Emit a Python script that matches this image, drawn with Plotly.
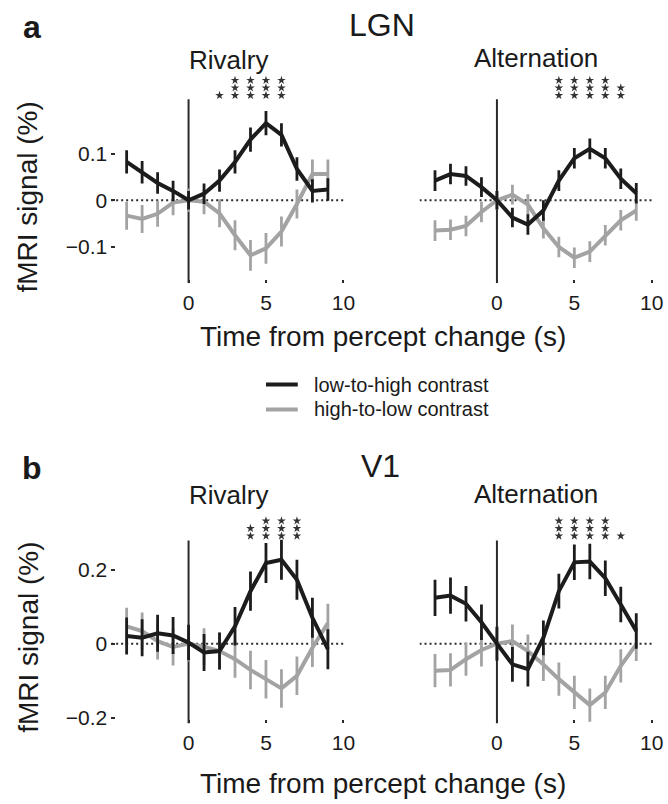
import plotly.graph_objects as go

W, H = 668, 804

# ---------------- data ----------------
time = [-4, -3, -2, -1, 0, 1, 2, 3, 4, 5, 6, 7, 8, 9]

# LGN, rivalry
lgn_riv_up = [0.082, 0.060, 0.037, 0.020, 0.000, 0.014, 0.042, 0.082, 0.130, 0.165, 0.140, 0.067, 0.020, 0.023]
lgn_riv_up_err = [0.025, 0.024, 0.023, 0.022, 0.020, 0.022, 0.024, 0.025, 0.026, 0.026, 0.025, 0.025, 0.025, 0.024]
lgn_riv_down = [-0.033, -0.040, -0.029, -0.005, 0.000, -0.003, -0.028, -0.075, -0.118, -0.103, -0.067, -0.008, 0.056, 0.056]
lgn_riv_down_err = [0.030, 0.030, 0.028, 0.027, 0.025, 0.027, 0.030, 0.032, 0.033, 0.033, 0.032, 0.031, 0.031, 0.031]

# LGN, alternation
lgn_alt_up = [0.042, 0.056, 0.052, 0.028, 0.000, -0.037, -0.052, -0.022, 0.042, 0.090, 0.110, 0.090, 0.046, 0.015]
lgn_alt_up_err = [0.022, 0.022, 0.021, 0.021, 0.020, 0.021, 0.022, 0.022, 0.022, 0.022, 0.022, 0.022, 0.022, 0.022]
lgn_alt_down = [-0.065, -0.063, -0.055, -0.025, 0.000, 0.012, -0.009, -0.060, -0.100, -0.123, -0.110, -0.075, -0.043, -0.022]
lgn_alt_down_err = [0.022, 0.022, 0.022, 0.022, 0.020, 0.021, 0.022, 0.022, 0.022, 0.022, 0.022, 0.022, 0.022, 0.022]

# V1, rivalry
v1_riv_up = [0.021, 0.016, 0.028, 0.022, 0.003, -0.024, -0.020, 0.047, 0.142, 0.218, 0.227, 0.173, 0.070, -0.015]
v1_riv_up_err = [0.050, 0.050, 0.050, 0.050, 0.048, 0.050, 0.050, 0.052, 0.053, 0.054, 0.054, 0.054, 0.054, 0.054]
v1_riv_down = [0.047, 0.034, 0.007, -0.009, 0.000, -0.008, -0.020, -0.042, -0.071, -0.096, -0.121, -0.087, -0.011, 0.056]
v1_riv_down_err = [0.050, 0.050, 0.050, 0.050, 0.048, 0.050, 0.050, 0.050, 0.052, 0.052, 0.052, 0.052, 0.052, 0.052]

# V1, alternation
v1_alt_up = [0.124, 0.130, 0.108, 0.058, 0.000, -0.056, -0.069, 0.016, 0.142, 0.220, 0.222, 0.177, 0.106, 0.034]
v1_alt_up_err = [0.049, 0.049, 0.048, 0.048, 0.046, 0.047, 0.047, 0.047, 0.047, 0.048, 0.048, 0.048, 0.048, 0.048]
v1_alt_down = [-0.073, -0.071, -0.042, -0.017, 0.000, 0.007, -0.020, -0.056, -0.096, -0.132, -0.166, -0.132, -0.060, -0.002]
v1_alt_down_err = [0.045, 0.045, 0.045, 0.045, 0.044, 0.045, 0.045, 0.045, 0.045, 0.045, 0.045, 0.045, 0.045, 0.045]

# significance stars: time point and number of stars
lgn_riv_star_t = [2, 3, 4, 5, 6]
lgn_riv_star_n = [1, 3, 3, 3, 3]
lgn_alt_star_t = [4, 5, 6, 7, 8]
lgn_alt_star_n = [3, 3, 3, 3, 2]
v1_riv_star_t = [4, 5, 6, 7]
v1_riv_star_n = [2, 3, 3, 3]
v1_alt_star_t = [4, 5, 6, 7, 8]
v1_alt_star_n = [3, 3, 3, 3, 1]

x_tickvals = [0, 5, 10]
x_ticktext = ["0", "5", "10"]
lgn_tickvals = [-0.1, 0, 0.1]
lgn_ticktext = ["\u22120.1", "0", "0.1"]
v1_tickvals = [-0.2, 0, 0.2]
v1_ticktext = ["\u22120.2", "0", "0.2"]

legend_labels = ["low-to-high contrast", "high-to-low contrast"]

# ---------------- style ----------------
FONT = "Liberation Sans, Arial, Helvetica, sans-serif"
BLACK = "#1c1c1c"
GRAY = "#a3a3a3"
AXC = "#2a2a2a"


def fx(p):
    return p / W


def fy(p):
    return 1 - p / H


# pixel geometry of the panels
X_LEFT = (112.0, 352.2)
X_RIGHT = (422.7, 662.9)
X_RANGE = [-5, 10.4]

TOP_DOM = (75.0, 285.0)      # pixel top, bottom
TOP_ZERO, TOP_SCALE = 201.5, 470.0
BOT_DOM = (518.0, 728.0)
BOT_ZERO, BOT_SCALE = 647.7, 372.0


def yrange(dom, zero, scale):
    return [(zero - dom[1]) / scale, (zero - dom[0]) / scale]


def val(p, zero, scale):
    return (zero - p) / scale


fig = go.Figure()

panels = [
    ("x", "y", lgn_riv_up, lgn_riv_up_err, lgn_riv_down, lgn_riv_down_err,
     lgn_riv_star_t, lgn_riv_star_n, TOP_ZERO, TOP_SCALE, 96.0, 100.0, TOP_DOM),
    ("x2", "y2", lgn_alt_up, lgn_alt_up_err, lgn_alt_down, lgn_alt_down_err,
     lgn_alt_star_t, lgn_alt_star_n, TOP_ZERO, TOP_SCALE, 96.0, 100.0, TOP_DOM),
    ("x3", "y3", v1_riv_up, v1_riv_up_err, v1_riv_down, v1_riv_down_err,
     v1_riv_star_t, v1_riv_star_n, BOT_ZERO, BOT_SCALE, 539.3, 544.0, BOT_DOM),
    ("x4", "y4", v1_alt_up, v1_alt_up_err, v1_alt_down, v1_alt_down_err,
     v1_alt_star_t, v1_alt_star_n, BOT_ZERO, BOT_SCALE, 539.3, 544.0, BOT_DOM),
]

STAR_STEP_PX = 7.6
shapes = []

for (xa, ya, up, upe, dn, dne, st, sn, zero, scale, sbase, vtop, dom) in panels:
    rng = yrange(dom, zero, scale)
    shapes.append(dict(type="line", xref=xa, yref=ya, x0=-5, x1=10, y0=0, y1=0,
                       line=dict(color=AXC, width=2, dash="2px,3px"), layer="below"))
    shapes.append(dict(type="line", xref=xa, yref=ya, x0=0, x1=0,
                       y0=rng[0], y1=val(vtop, zero, scale),
                       line=dict(color=AXC, width=2), layer="below"))

    fig.add_trace(go.Scatter(
        x=time, y=dn, mode="lines", xaxis=xa, yaxis=ya,
        line=dict(color=GRAY, width=4),
        error_y=dict(type="data", array=dne, width=0, thickness=2.8, color=GRAY),
        showlegend=False, hoverinfo="skip"))
    fig.add_trace(go.Scatter(
        x=time, y=up, mode="lines", xaxis=xa, yaxis=ya,
        line=dict(color=BLACK, width=4),
        error_y=dict(type="data", array=upe, width=0, thickness=2.8, color=BLACK),
        showlegend=False, hoverinfo="skip"))

    sx, sy = [], []
    for t, n in zip(st, sn):
        for k in range(n):
            sx.append(t)
            sy.append(val(sbase - k * STAR_STEP_PX, zero, scale))
    fig.add_trace(go.Scatter(
        x=sx, y=sy, mode="markers", xaxis=xa, yaxis=ya, cliponaxis=False,
        marker=dict(symbol="star", size=6.5, color="#333333", line=dict(width=0)),
        showlegend=False, hoverinfo="skip"))

# legend (drawn manually)
for i, col in enumerate([BLACK, GRAY]):
    ypx = 387 + 25 * i
    shapes.append(dict(type="line", xref="paper", yref="paper",
                       x0=fx(268), x1=fx(300), y0=fy(ypx), y1=fy(ypx),
                       line=dict(color=col, width=4)))

annotations = []
for i, lab in enumerate(legend_labels):
    ypx = 387 + 25 * i
    annotations.append(dict(text=lab, x=fx(314), y=fy(ypx), xref="paper", yref="paper",
                            xanchor="left", yanchor="middle", showarrow=False,
                            font=dict(size=20, color="#1a1a1a", family=FONT)))


def add_text(txt, xp, yp, size, bold=False):
    annotations.append(dict(text=("<b>%s</b>" % txt) if bold else txt,
                            x=fx(xp), y=fy(yp), xref="paper", yref="paper",
                            xanchor="center", yanchor="middle", showarrow=False,
                            font=dict(size=size, color="#1a1a1a", family=FONT)))


add_text("a", 32, 27, 32, bold=True)
add_text("LGN", 385, 25, 32)
add_text("Rivalry", 230, 60, 26)
add_text("Alternation", 540, 58, 26)
add_text("Time from percept change (s)", 386, 339, 28)

add_text("b", 32, 471, 32, bold=True)
add_text("V1", 383, 469, 32)
add_text("Rivalry", 230, 498, 26)
add_text("Alternation", 540, 497, 26)
add_text("Time from percept change (s)", 386, 788, 28)

for yc in (198, 641):
    annotations.append(dict(text="fMRI signal (%)", x=fx(28), y=fy(yc), xref="paper", yref="paper",
                            xanchor="center", yanchor="middle", textangle=-90, showarrow=False,
                            font=dict(size=28, color="#1a1a1a", family=FONT)))


def xaxis(dom, anchor):
    return dict(domain=[fx(dom[0]), fx(dom[1])], range=X_RANGE, anchor=anchor,
                tickvals=x_tickvals, ticktext=x_ticktext, ticks="inside", ticklen=3,
                tickwidth=2, tickcolor=AXC, showline=False, showgrid=False, zeroline=False,
                ticklabelstandoff=5,
                tickfont=dict(size=21, color="#1a1a1a", family=FONT), fixedrange=True)


def yaxis(dom, zero, scale, anchor, tv, tt, labels=True):
    d = dict(domain=[fy(dom[1]), fy(dom[0])], range=yrange(dom, zero, scale), anchor=anchor,
             showline=False, showgrid=False, zeroline=False, fixedrange=True,
             tickfont=dict(size=21, color="#1a1a1a", family=FONT))
    if labels:
        d.update(tickvals=tv, ticktext=tt, ticks="inside", ticklen=4, tickwidth=2, tickcolor=AXC,
                 ticklabelstandoff=3)
    else:
        d.update(showticklabels=False, ticks="")
    return d


fig.update_layout(
    width=W, height=H, margin=dict(l=0, r=0, t=0, b=0),
    paper_bgcolor="white", plot_bgcolor="white",
    font=dict(family=FONT),
    xaxis=xaxis(X_LEFT, "y"),
    xaxis2=xaxis(X_RIGHT, "y2"),
    xaxis3=xaxis(X_LEFT, "y3"),
    xaxis4=xaxis(X_RIGHT, "y4"),
    yaxis=yaxis(TOP_DOM, TOP_ZERO, TOP_SCALE, "x", lgn_tickvals, lgn_ticktext),
    yaxis2=yaxis(TOP_DOM, TOP_ZERO, TOP_SCALE, "x2", lgn_tickvals, lgn_ticktext, labels=False),
    yaxis3=yaxis(BOT_DOM, BOT_ZERO, BOT_SCALE, "x3", v1_tickvals, v1_ticktext),
    yaxis4=yaxis(BOT_DOM, BOT_ZERO, BOT_SCALE, "x4", v1_tickvals, v1_ticktext, labels=False),
    shapes=shapes, annotations=annotations,
)

fig.write_html("out.html")
